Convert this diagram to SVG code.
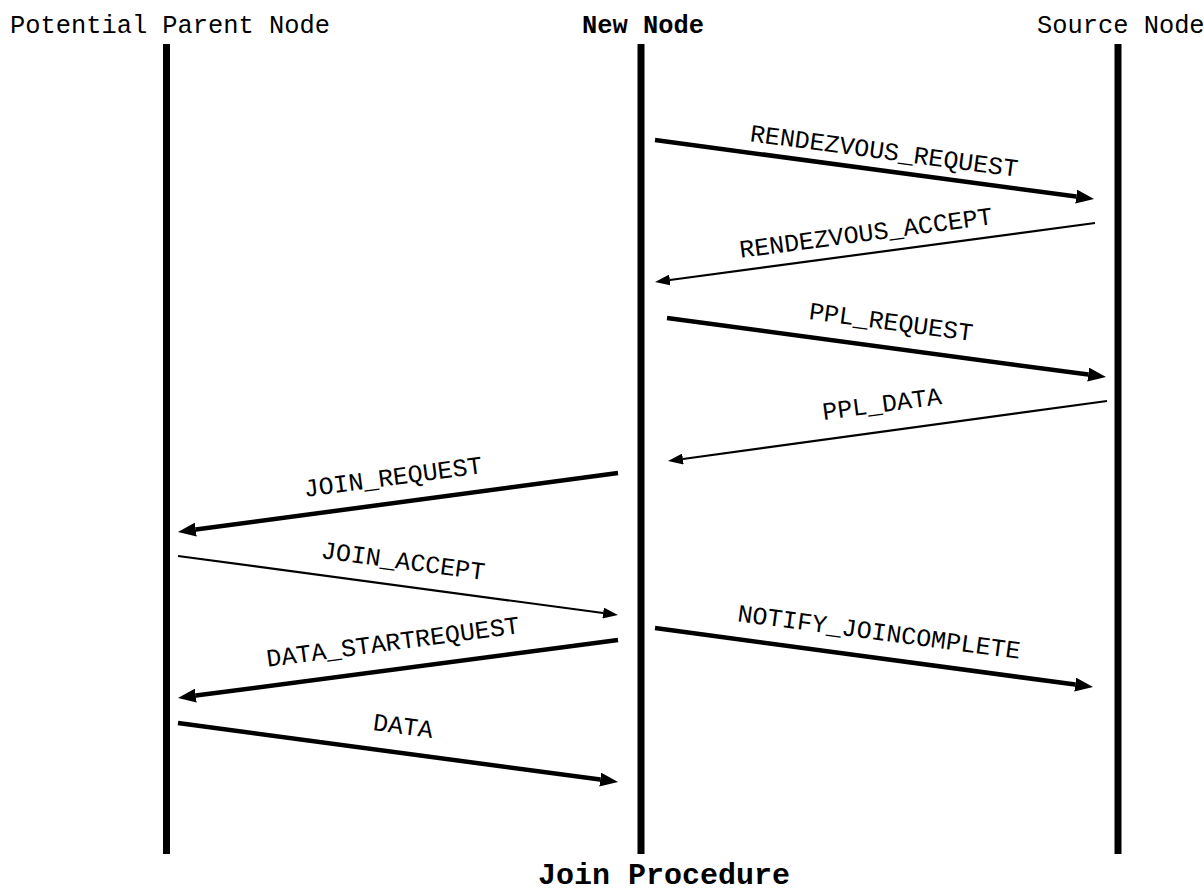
<svg xmlns="http://www.w3.org/2000/svg" width="1204" height="891" viewBox="0 0 1204 891">
  <style>
    .lbl { font-family: "Liberation Mono", "Courier New", monospace; font-size: 25px; fill: #000; }
    .head { font-family: "Liberation Mono", "Courier New", monospace; font-size: 25.4px; fill: #000; }
    .bold { font-weight: bold; }
    .title { font-family: "Liberation Mono", "Courier New", monospace; font-size: 30px; font-weight: bold; fill: #000; }
    .life { stroke: #000; stroke-width: 7; fill: none; }
    .thick { stroke: #000; stroke-width: 4.5; fill: none; marker-end: url(#headBig); }
    .thin { stroke: #000; stroke-width: 2.2; fill: none; marker-end: url(#headSmall); }
  </style>
  <defs>
    <marker id="headBig" markerUnits="userSpaceOnUse" viewBox="0 0 18 14" refX="0" refY="7" markerWidth="18" markerHeight="14" orient="auto">
      <path d="M0,0 L18,7 L0,14 z" fill="#000"/>
    </marker>
    <marker id="headSmall" markerUnits="userSpaceOnUse" viewBox="0 0 15 11" refX="0" refY="5.5" markerWidth="15" markerHeight="11" orient="auto">
      <path d="M0,0 L15,5.5 L0,11 z" fill="#000"/>
    </marker>
  </defs>
  <rect width="1204" height="891" fill="#fff"/>

  <!-- participants with their lifelines -->
  <g id="potential-parent">
    <text class="head" x="10" y="33">Potential Parent Node</text>
    <line class="life" x1="166.5" y1="44" x2="166.5" y2="854"/>
  </g>
  <g id="new-node">
    <text class="head bold" x="643" y="33" text-anchor="middle">New Node</text>
    <line class="life" x1="641" y1="44" x2="641" y2="854"/>
  </g>
  <g id="source-node">
    <text class="head" x="1037" y="33">Source Node</text>
    <line class="life" x1="1118" y1="44" x2="1118" y2="854"/>
  </g>

  <!-- messages -->
  <g id="connectors">
    <line class="thick" x1="655" y1="140" x2="1076.2" y2="196.6"/>
    <line class="thin" x1="1095" y1="223" x2="669.9" y2="280"/>
    <line class="thick" x1="667" y1="318" x2="1088.2" y2="374.6"/>
    <line class="thin" x1="1107" y1="401" x2="682.9" y2="459"/>
    <line class="thick" x1="618" y1="473" x2="195.8" y2="529.6"/>
    <line class="thin" x1="178" y1="556" x2="603.1" y2="613"/>
    <line class="thick" x1="618" y1="640" x2="195.8" y2="695.6"/>
    <line class="thick" x1="178" y1="723" x2="600.2" y2="779.6"/>
    <line class="thick" x1="655" y1="628" x2="1075.2" y2="684.6"/>
  </g>

  <g id="labels">
    <text class="lbl" text-anchor="middle" transform="translate(883,159) rotate(7.6)">RENDEZVOUS_REQUEST</text>
    <text class="lbl" text-anchor="middle" transform="translate(867,241) rotate(-7.6)">RENDEZVOUS_ACCEPT</text>
    <text class="lbl" text-anchor="middle" transform="translate(890,330) rotate(7.6)">PPL_REQUEST</text>
    <text class="lbl" text-anchor="middle" transform="translate(883,412) rotate(-7.6)">PPL_DATA</text>
    <text class="lbl" text-anchor="middle" transform="translate(394,485) rotate(-7.6)">JOIN_REQUEST</text>
    <text class="lbl" text-anchor="middle" transform="translate(402,569) rotate(7.6)">JOIN_ACCEPT</text>
    <text class="lbl" text-anchor="middle" transform="translate(394,650) rotate(-7.6)">DATA_STARTREQUEST</text>
    <text class="lbl" text-anchor="middle" transform="translate(402,734) rotate(7.6)">DATA</text>
    <text class="lbl" text-anchor="middle" transform="translate(878,640) rotate(7.6)">NOTIFY_JOINCOMPLETE</text>
  </g>

  <text class="title" x="664" y="884" text-anchor="middle">Join Procedure</text>
</svg>
